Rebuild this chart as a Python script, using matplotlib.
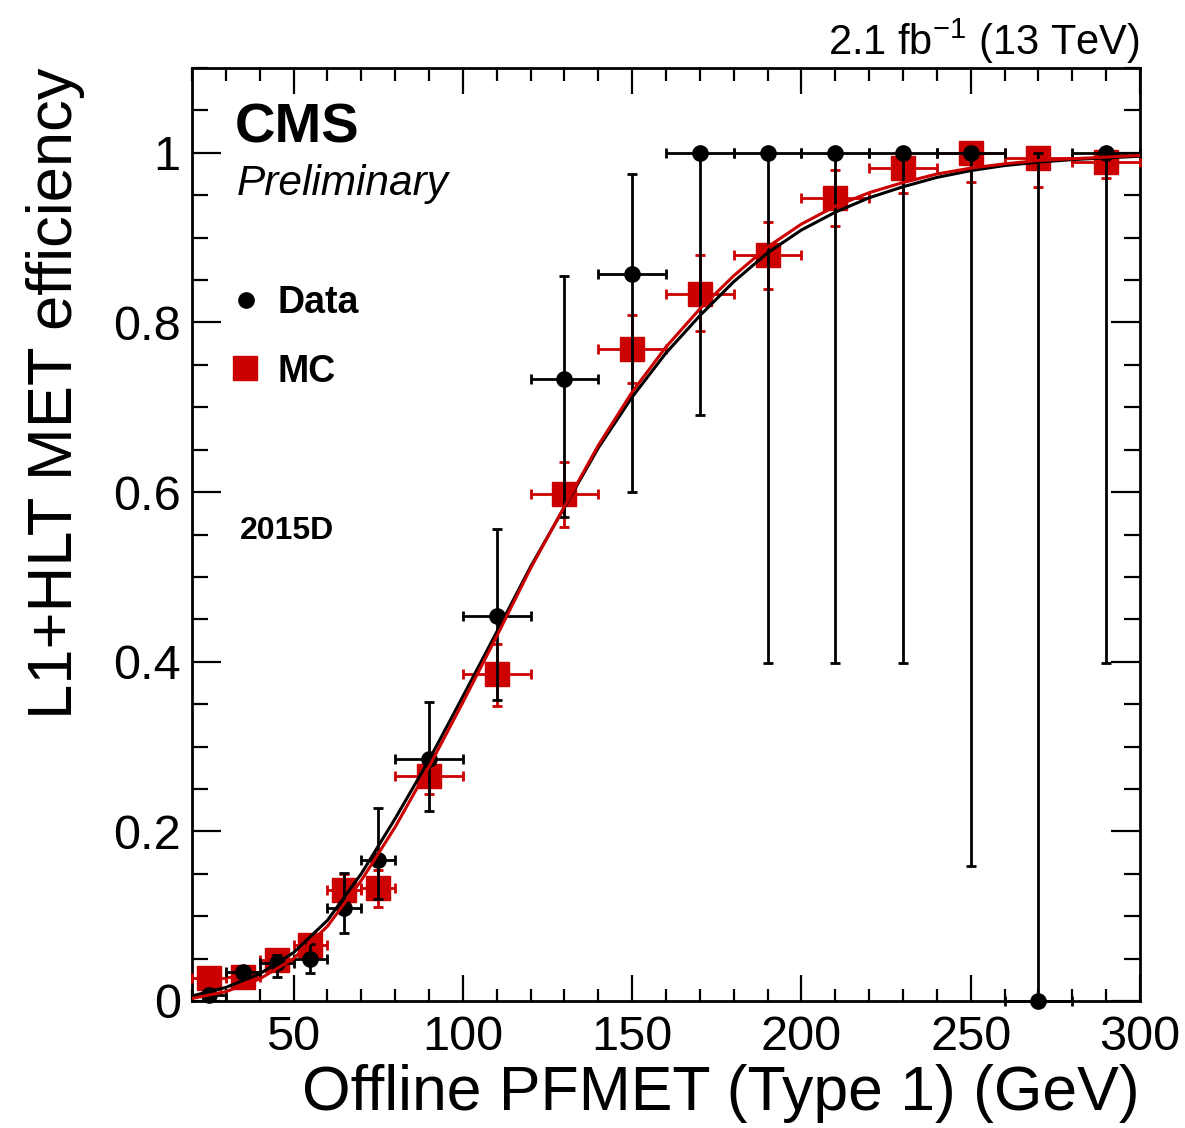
import numpy as np
import matplotlib
matplotlib.use('Agg')
import matplotlib.pyplot as plt
from matplotlib.ticker import MultipleLocator, FixedLocator, FuncFormatter

plt.rcParams['font.family'] = ['Liberation Sans', 'DejaVu Sans']
plt.rcParams['mathtext.fontset'] = 'custom'
plt.rcParams['mathtext.rm'] = 'Liberation Sans'
plt.rcParams['mathtext.default'] = 'regular'

# bins (GeV)
met = [25, 35, 45, 55, 65, 75, 90, 110, 130, 150, 170, 190, 210, 230, 250, 270, 290]
half_width = [5, 5, 5, 5, 5, 5, 10, 10, 10, 10, 10, 10, 10, 10, 10, 10, 10]

# data efficiency with lower / upper error edges
data_eff = [0.007, 0.034, 0.045, 0.050, 0.110, 0.166, 0.285, 0.454, 0.733, 0.857,
            1.0, 1.0, 1.0, 1.0, 1.0, 0.0, 1.0]
data_lo = [0.002, 0.027, 0.028, 0.033, 0.080, 0.120, 0.224, 0.355, 0.571, 0.600,
           0.691, 0.399, 0.399, 0.399, 0.159, 0.0, 0.399]
data_hi = [0.014, 0.041, 0.054, 0.067, 0.151, 0.228, 0.353, 0.557, 0.855, 0.975,
           1.0, 1.0, 1.0, 1.0, 1.0, 1.0, 1.0]

# MC efficiency
mc_eff = [0.027, 0.028, 0.048, 0.066, 0.131, 0.133, 0.265, 0.385, 0.598, 0.769,
          0.834, 0.879, 0.947, 0.982, 1.0, 0.994, 0.989]
mc_lo = [0.022, 0.023, 0.042, 0.060, 0.112, 0.111, 0.244, 0.348, 0.559, 0.729,
         0.790, 0.839, 0.914, 0.953, 0.966, 0.960, 0.970]
mc_hi = [0.032, 0.033, 0.054, 0.072, 0.150, 0.155, 0.287, 0.421, 0.636, 0.809,
         0.879, 0.919, 0.980, 0.998, 1.0, 1.0, 1.0]

# fit curves
fit_x = [20, 30, 40, 50, 60, 70, 80, 90, 100, 110, 120, 130, 140, 150, 160,
         170, 180, 190, 200, 210, 220, 230, 240, 250, 260, 270, 280, 290, 300]
fit_data = [0.006, 0.016, 0.032, 0.057, 0.095, 0.150, 0.215, 0.284, 0.359, 0.435,
            0.512, 0.582, 0.652, 0.712, 0.764, 0.808, 0.848, 0.882, 0.909, 0.930,
            0.947, 0.960, 0.971, 0.979, 0.985, 0.989, 0.992, 0.994, 0.996]
fit_mc = [0.003, 0.011, 0.026, 0.050, 0.088, 0.142, 0.205, 0.276, 0.352, 0.430,
          0.510, 0.583, 0.655, 0.718, 0.771, 0.816, 0.855, 0.889, 0.916, 0.937,
          0.953, 0.965, 0.975, 0.982, 0.987, 0.991, 0.993, 0.995, 0.997]

red = '#cc0000'

fig = plt.figure(figsize=(11.85, 11.28), dpi=100)
ax = fig.add_axes([0.162, 0.1126, 0.800, 0.8271])

d = np.array(data_eff)
m = np.array(mc_eff)
ax.errorbar(met, mc_eff, xerr=half_width,
            yerr=[m - np.array(mc_lo), np.array(mc_hi) - m],
            fmt='s', color=red, ms=17, elinewidth=2, capsize=3.5, capthick=2,
            clip_on=False, zorder=3)
ax.errorbar(met, data_eff, xerr=half_width,
            yerr=[d - np.array(data_lo), np.array(data_hi) - d],
            fmt='o', color='black', ms=11, elinewidth=2, capsize=3.5, capthick=2,
            clip_on=False, zorder=4)

ax.plot(fit_x, fit_data, color='black', lw=2.2, zorder=5)
ax.plot(fit_x, fit_mc, color=red, lw=2.2, zorder=5)

ax.set_xlim(20, 300)
ax.set_ylim(0, 1.1)

ax.xaxis.set_major_locator(FixedLocator([50, 100, 150, 200, 250, 300]))
ax.xaxis.set_minor_locator(MultipleLocator(10))
ax.yaxis.set_major_locator(FixedLocator([0, 0.2, 0.4, 0.6, 0.8, 1.0]))
ax.yaxis.set_minor_locator(MultipleLocator(0.05))
ax.yaxis.set_major_formatter(FuncFormatter(lambda v, p: '%g' % round(v, 2)))

ax.tick_params(which='both', direction='in', top=True, right=True, width=1.6,
               labelsize=35)
ax.tick_params(axis='x', which='major', length=18.5, pad=10)
ax.tick_params(axis='x', which='minor', length=9)
ax.tick_params(axis='y', which='major', length=21, pad=8)
ax.tick_params(axis='y', which='minor', length=11.5)
for s in ax.spines.values():
    s.set_linewidth(2)

ax.set_xlabel('Offline PFMET (Type 1) (GeV)', fontsize=45, loc='right')
ax.xaxis.set_label_coords(1.0, -0.117)
ax.xaxis.label.set_va('baseline')
ax.set_ylabel('L1+HLT MET efficiency', fontsize=45.5, loc='top')
ax.yaxis.set_label_coords(-0.127, 1.0)
ax.yaxis.label.set_va('baseline')

ax.text(1.0, 1.014, '2.1 fb$^{-1}$ (13 TeV)', transform=ax.transAxes,
        ha='right', va='baseline', fontsize=30)
ax.text(0.045, 0.92, 'CMS', transform=ax.transAxes, ha='left', va='baseline',
        fontsize=40.5, fontweight='bold')
ax.text(0.047, 0.864, 'Preliminary', transform=ax.transAxes, ha='left',
        va='baseline', fontsize=30.5, fontstyle='italic')

# legend
ax.plot([0.057], [0.751], 'o', color='black', ms=11, transform=ax.transAxes,
        clip_on=False)
ax.text(0.090, 0.737, 'Data', transform=ax.transAxes, ha='left', va='baseline',
        fontsize=27, fontweight='bold')
ax.plot([0.056], [0.678], 's', color=red, ms=17, transform=ax.transAxes,
        clip_on=False)
ax.text(0.090, 0.663, 'MC', transform=ax.transAxes, ha='left', va='baseline',
        fontsize=27, fontweight='bold')
ax.text(0.0506, 0.495, '2015D', transform=ax.transAxes, ha='left',
        va='baseline', fontsize=23, fontweight='bold')

fig.savefig('out.png', dpi=100)
